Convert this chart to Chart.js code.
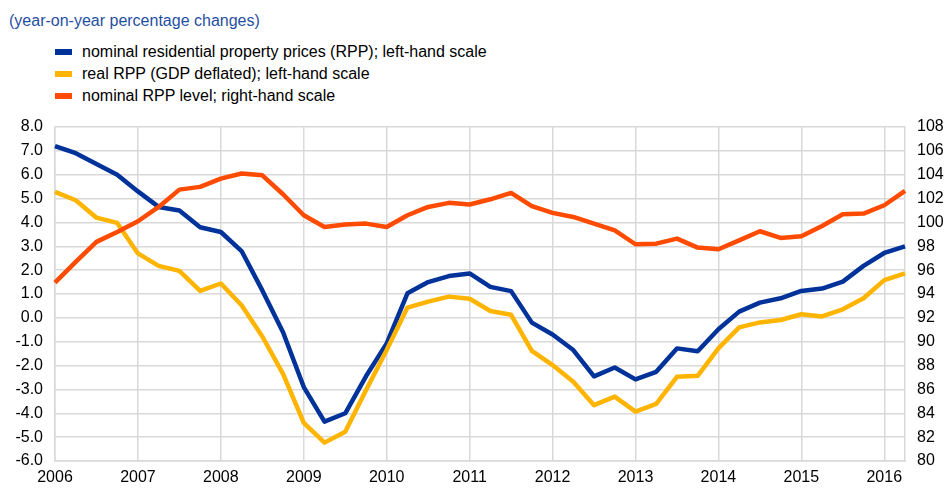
<!DOCTYPE html>
<html>
<head>
<meta charset="utf-8">
<script src="https://cdn.jsdelivr.net/npm/chart.js@4/dist/chart.umd.min.js"></script>
<style>
  html, body { margin: 0; padding: 0; background: #fff; }
  body { width: 947px; height: 488px; position: relative; overflow: hidden; font-family: "Liberation Sans", Arial, sans-serif; }
  #title { position: absolute; left: 9px; top: 12px; font-size: 16px; line-height: 18px; color: #1f4fa3; }
  .leg { position: absolute; left: 55px; font-size: 16px; color: #000; line-height: 18px; }
  .leg span { display: inline-block; width: 17px; height: 6px; margin-right: 10px; vertical-align: middle; position: relative; top: -1px; }
  #chart { position: absolute; left: 0; top: 0; }
</style>
</head>
<body>
<div id="title">(year-on-year percentage changes)</div>
<div class="leg" style="top:43px"><span style="background:#003299"></span>nominal residential property prices (RPP); left-hand scale</div>
<div class="leg" style="top:65px"><span style="background:#ffb400"></span>real RPP (GDP deflated); left-hand scale</div>
<div class="leg" style="top:87px"><span style="background:#ff4b00"></span>nominal RPP level; right-hand scale</div>
<canvas id="chart" width="947" height="488"></canvas>
<script>
// quarterly observations, 2006Q1 - 2016Q2
const quarters = [
  "2006Q1","2006Q2","2006Q3","2006Q4","2007Q1","2007Q2","2007Q3","2007Q4",
  "2008Q1","2008Q2","2008Q3","2008Q4","2009Q1","2009Q2","2009Q3","2009Q4",
  "2010Q1","2010Q2","2010Q3","2010Q4","2011Q1","2011Q2","2011Q3","2011Q4",
  "2012Q1","2012Q2","2012Q3","2012Q4","2013Q1","2013Q2","2013Q3","2013Q4",
  "2014Q1","2014Q2","2014Q3","2014Q4","2015Q1","2015Q2","2015Q3","2015Q4",
  "2016Q1","2016Q2"
];

const nominalRPP = [
  7.2, 6.9, 6.45, 6.0, 5.3, 4.65, 4.5, 3.8,
  3.6, 2.8, 1.15, -0.6, -2.9, -4.35, -4.0, -2.45,
  -1.07, 1.03, 1.5, 1.75, 1.86, 1.3, 1.12, -0.2,
  -0.7, -1.35, -2.45, -2.08, -2.58, -2.26, -1.28, -1.4,
  -0.48, 0.26, 0.64, 0.82, 1.13, 1.23, 1.52, 2.18,
  2.72, 3.0
];

const realRPP = [
  5.28, 4.93, 4.2, 3.98, 2.7, 2.18, 1.97, 1.13,
  1.44, 0.53, -0.78, -2.35, -4.4, -5.23, -4.77, -3.03,
  -1.35, 0.43, 0.68, 0.89, 0.8, 0.29, 0.13, -1.38,
  -1.98, -2.68, -3.66, -3.3, -3.93, -3.61, -2.47, -2.43,
  -1.28, -0.4, -0.19, -0.09, 0.15, 0.06, 0.36, 0.82,
  1.58, 1.86
];

const nominalLevel = [
  94.96, 96.7, 98.37, 99.2, 100.1, 101.3, 102.75, 102.98,
  103.67, 104.1, 103.95, 102.36, 100.6, 99.62, 99.82, 99.9,
  99.62, 100.6, 101.3, 101.64, 101.5, 101.94, 102.47, 101.36,
  100.8, 100.46, 99.9, 99.34, 98.17, 98.22, 98.64, 97.89,
  97.75, 98.5, 99.26, 98.7, 98.84, 99.7, 100.68, 100.74,
  101.44, 102.64
];

const GRID = "#d9d9d9";
const FONT = { family: "'Liberation Sans', Arial, sans-serif", size: 16 };

function isYearStart(i) { return quarters[i].endsWith("Q1"); }

new Chart(document.getElementById("chart"), {
  type: "line",
  data: {
    labels: quarters,
    datasets: [
      { label: "nominal RPP level", data: nominalLevel, yAxisID: "y2", borderColor: "#ff4b00", borderWidth: 4.5 },
      { label: "real RPP", data: realRPP, yAxisID: "y", borderColor: "#ffb400", borderWidth: 4.5 },
      { label: "nominal RPP", data: nominalRPP, yAxisID: "y", borderColor: "#003299", borderWidth: 4.5 },
    ],
  },
  options: {
    responsive: false, animation: false,
    layout: { padding: { top: 127, left: 0, right: 0, bottom: 0 } },
    elements: { point: { radius: 0 }, line: { tension: 0, borderJoinStyle: "round" } },
    plugins: { legend: { display: false }, tooltip: { enabled: false } },
    scales: {
      x: {
        offset: false,
        grid: { drawTicks: false, color: (c) => (c.index !== undefined && isYearStart(c.index) ? GRID : "rgba(0,0,0,0)"), lineWidth: 1.5 },
        border: { color: GRID, width: 1.5 },
        ticks: { autoSkip: false, maxRotation: 0, padding: 7, color: "#000", font: FONT,
          callback: (v, i) => (isYearStart(i) ? quarters[i].slice(0, 4) : "") },
        afterFit: (s) => { s.height = 27; },
      },
      y: {
        position: "left", min: -6, max: 8,
        grid: { drawTicks: false, color: GRID, lineWidth: 1.5 },
        border: { color: GRID, width: 1.5 },
        ticks: { stepSize: 1, padding: 12, color: "#000", font: FONT, callback: (v) => v.toFixed(1) },
        afterFit: (s) => { s.width = 55; },
      },
      y2: {
        position: "right", min: 80, max: 108,
        grid: { display: false, drawTicks: false },
        border: { color: GRID, width: 1.5 },
        ticks: { stepSize: 2, padding: 12, color: "#000", font: FONT },
        afterFit: (s) => { s.width = 42; },
      },
    },
  },
});
</script>
</body>
</html>
